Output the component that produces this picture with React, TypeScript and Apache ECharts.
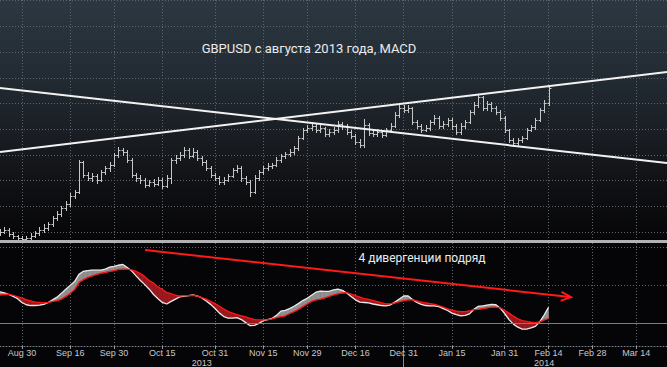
import React, { useEffect, useRef } from 'react';
import * as echarts from 'echarts';

// ---- data ----
const opens = [1.5585,1.5600,1.5616,1.5584,1.5569,1.5553,1.5546,1.5553,1.5569,1.5592,1.5616,1.5631,1.5662,1.5709,1.5740,1.5787,1.5818,1.5880,1.5911,1.6145,1.6043,1.6020,1.6036,1.6005,1.6067,1.6098,1.6121,1.6199,1.6238,1.6222,1.6160,1.6043,1.6020,1.6005,1.5966,1.5989,1.5973,1.6005,1.5958,1.6020,1.6160,1.6176,1.6199,1.6238,1.6191,1.6222,1.6176,1.6145,1.6098,1.6043,1.6020,1.5989,1.6005,1.6036,1.6082,1.6098,1.6020,1.5989,1.5911,1.6020,1.6067,1.6098,1.6113,1.6121,1.6160,1.6191,1.6207,1.6222,1.6254,1.6331,1.6394,1.6409,1.6425,1.6394,1.6409,1.6362,1.6378,1.6394,1.6440,1.6425,1.6378,1.6347,1.6300,1.6277,1.6432,1.6370,1.6362,1.6378,1.6355,1.6394,1.6425,1.6510,1.6565,1.6549,1.6565,1.6456,1.6425,1.6394,1.6409,1.6456,1.6487,1.6425,1.6440,1.6471,1.6425,1.6378,1.6425,1.6456,1.6534,1.6588,1.6650,1.6565,1.6596,1.6565,1.6534,1.6487,1.6394,1.6316,1.6292,1.6316,1.6331,1.6394,1.6417,1.6471,1.6549,1.6604];
const highs = [1.5625,1.5640,1.5628,1.5598,1.5580,1.5566,1.5570,1.5590,1.5610,1.5640,1.5660,1.5680,1.5725,1.5760,1.5800,1.5840,1.5900,1.5925,1.6160,1.6150,1.6065,1.6060,1.6050,1.6085,1.6115,1.6145,1.6215,1.6260,1.6255,1.6235,1.6175,1.6060,1.6045,1.6020,1.6005,1.6010,1.6025,1.6020,1.6040,1.6175,1.6200,1.6225,1.6260,1.6250,1.6250,1.6235,1.6190,1.6160,1.6110,1.6060,1.6035,1.6025,1.6055,1.6100,1.6120,1.6110,1.6035,1.6005,1.6040,1.6085,1.6115,1.6135,1.6140,1.6180,1.6210,1.6225,1.6245,1.6270,1.6350,1.6410,1.6430,1.6445,1.6440,1.6430,1.6420,1.6400,1.6420,1.6460,1.6455,1.6440,1.6390,1.6360,1.6320,1.6480,1.6445,1.6390,1.6400,1.6395,1.6410,1.6445,1.6530,1.6590,1.6585,1.6590,1.6575,1.6470,1.6440,1.6430,1.6470,1.6510,1.6500,1.6460,1.6490,1.6485,1.6440,1.6445,1.6475,1.6550,1.6610,1.6670,1.6660,1.6620,1.6615,1.6580,1.6550,1.6500,1.6405,1.6330,1.6335,1.6350,1.6410,1.6435,1.6490,1.6565,1.6625,1.6735];
const lows = [1.5575,1.5590,1.5570,1.5555,1.5540,1.5535,1.5538,1.5545,1.5560,1.5580,1.5600,1.5615,1.5650,1.5695,1.5725,1.5770,1.5805,1.5865,1.5900,1.6030,1.6005,1.6000,1.5985,1.5995,1.6050,1.6075,1.6110,1.6185,1.6200,1.6145,1.6030,1.6000,1.5985,1.5950,1.5955,1.5960,1.5965,1.5940,1.5950,1.5980,1.6140,1.6160,1.6185,1.6175,1.6180,1.6160,1.6125,1.6080,1.6025,1.6005,1.5970,1.5975,1.5995,1.6025,1.6065,1.6000,1.5970,1.5880,1.5900,1.6005,1.6050,1.6085,1.6095,1.6110,1.6145,1.6175,1.6190,1.6205,1.6240,1.6320,1.6375,1.6395,1.6380,1.6380,1.6345,1.6350,1.6365,1.6380,1.6405,1.6360,1.6330,1.6285,1.6260,1.6265,1.6355,1.6345,1.6350,1.6340,1.6345,1.6380,1.6415,1.6495,1.6530,1.6535,1.6440,1.6410,1.6380,1.6385,1.6395,1.6440,1.6410,1.6410,1.6425,1.6405,1.6360,1.6365,1.6410,1.6445,1.6520,1.6575,1.6550,1.6550,1.6545,1.6520,1.6470,1.6375,1.6300,1.6270,1.6275,1.6300,1.6320,1.6385,1.6405,1.6460,1.6535,1.6590];
const closes = [1.5600,1.5616,1.5584,1.5569,1.5553,1.5546,1.5553,1.5569,1.5592,1.5616,1.5631,1.5662,1.5709,1.5740,1.5787,1.5818,1.5880,1.5911,1.6145,1.6043,1.6020,1.6036,1.6005,1.6067,1.6098,1.6121,1.6199,1.6238,1.6222,1.6160,1.6043,1.6020,1.6005,1.5966,1.5989,1.5973,1.6005,1.5958,1.6020,1.6160,1.6176,1.6199,1.6238,1.6191,1.6222,1.6176,1.6145,1.6098,1.6043,1.6020,1.5989,1.6005,1.6036,1.6082,1.6098,1.6020,1.5989,1.5911,1.6020,1.6067,1.6098,1.6113,1.6121,1.6160,1.6191,1.6207,1.6222,1.6254,1.6331,1.6394,1.6409,1.6425,1.6394,1.6409,1.6362,1.6378,1.6394,1.6440,1.6425,1.6378,1.6347,1.6300,1.6277,1.6432,1.6370,1.6362,1.6378,1.6355,1.6394,1.6425,1.6510,1.6565,1.6549,1.6565,1.6456,1.6425,1.6394,1.6409,1.6456,1.6487,1.6425,1.6440,1.6471,1.6425,1.6378,1.6425,1.6456,1.6534,1.6588,1.6650,1.6565,1.6596,1.6565,1.6534,1.6487,1.6394,1.6316,1.6292,1.6316,1.6331,1.6394,1.6417,1.6471,1.6549,1.6604,1.6720];

const macdLine = [0.0082,0.0079,0.0075,0.0070,0.0064,0.0054,0.0048,0.0046,0.0046,0.0047,0.0049,0.0054,0.0061,0.0068,0.0078,0.0089,0.0099,0.0109,0.0128,0.0136,0.0138,0.0139,0.0139,0.0139,0.0142,0.0147,0.0149,0.0152,0.0154,0.0146,0.0137,0.0124,0.0112,0.0101,0.0089,0.0075,0.0064,0.0054,0.0050,0.0057,0.0063,0.0069,0.0071,0.0072,0.0074,0.0071,0.0066,0.0058,0.0049,0.0038,0.0026,0.0017,0.0013,0.0013,0.0014,0.0009,0.0001,-0.0007,-0.0006,-0.0001,0.0006,0.0009,0.0012,0.0020,0.0031,0.0033,0.0038,0.0044,0.0051,0.0059,0.0065,0.0073,0.0081,0.0084,0.0083,0.0083,0.0087,0.0089,0.0086,0.0079,0.0070,0.0061,0.0055,0.0054,0.0053,0.0050,0.0048,0.0046,0.0045,0.0048,0.0055,0.0063,0.0071,0.0071,0.0062,0.0054,0.0049,0.0046,0.0045,0.0045,0.0043,0.0038,0.0033,0.0026,0.0022,0.0019,0.0020,0.0024,0.0036,0.0044,0.0045,0.0047,0.0049,0.0048,0.0039,0.0025,0.0009,-0.0003,-0.0011,-0.0016,-0.0016,-0.0013,-0.0009,0.0003,0.0021,0.0041];
const signalLine = [0.0074,0.0075,0.0076,0.0073,0.0069,0.0066,0.0061,0.0058,0.0055,0.0054,0.0053,0.0054,0.0057,0.0059,0.0063,0.0070,0.0078,0.0088,0.0107,0.0114,0.0120,0.0124,0.0128,0.0131,0.0133,0.0136,0.0138,0.0141,0.0142,0.0142,0.0140,0.0136,0.0130,0.0122,0.0112,0.0105,0.0095,0.0088,0.0080,0.0077,0.0073,0.0071,0.0072,0.0072,0.0073,0.0071,0.0067,0.0063,0.0057,0.0051,0.0044,0.0037,0.0030,0.0026,0.0022,0.0019,0.0016,0.0012,0.0009,0.0008,0.0008,0.0009,0.0011,0.0014,0.0017,0.0019,0.0025,0.0030,0.0036,0.0043,0.0050,0.0057,0.0061,0.0063,0.0066,0.0070,0.0074,0.0077,0.0079,0.0080,0.0076,0.0072,0.0068,0.0064,0.0062,0.0059,0.0056,0.0053,0.0050,0.0051,0.0053,0.0056,0.0059,0.0061,0.0061,0.0058,0.0055,0.0053,0.0051,0.0049,0.0046,0.0042,0.0037,0.0034,0.0031,0.0030,0.0030,0.0032,0.0035,0.0036,0.0038,0.0040,0.0042,0.0042,0.0040,0.0033,0.0026,0.0018,0.0011,0.0006,0.0004,0.0002,0.0001,0.0003,0.0008,0.0012];

// trend lines: value at left edge, value at right edge of the plot
const risingTrend = [1.6222, 1.6845];
const fallingTrend = [1.6720, 1.6137];

const tickLabels = ['Aug 30','Sep 16','Sep 30','Oct 15','Oct 31','Nov 15','Nov 29','Dec 16','Dec 31','Jan 15','Jan 31','Feb 14','Feb 28','Mar 14'];
const yearLabels: Record<string, string> = { 'Oct 28': '2013', 'Feb 13': '2014' };
const yearBoundary = 'Dec 31';

const TITLE = 'GBPUSD с августа 2013 года, MACD';
const NOTE = '4 дивергенции подряд';

const MONTHS = ['Jan','Feb','Mar','Apr','May','Jun','Jul','Aug','Sep','Oct','Nov','Dec'];
function tradingDays(): string[] {
  const out: string[] = [];
  let t = Date.UTC(2013, 7, 23);
  const end = Date.UTC(2014, 2, 25);
  while (t <= end) {
    const d = new Date(t);
    const wd = d.getUTCDay();
    if (wd !== 0 && wd !== 6) out.push(MONTHS[d.getUTCMonth()] + ' ' + d.getUTCDate());
    t += 86400000;
  }
  return out;
}

export default function App() {
  const ref = useRef<HTMLDivElement>(null);
  useEffect(() => {
    if (!ref.current) return;
    const chart = echarts.init(ref.current, undefined, { renderer: 'svg' });
    const cats = tradingDays();
    const last = cats.length - 1;
    const tickSet = new Set(tickLabels);
    const isTick = (_i: number, v: string) => tickSet.has(v);
    const gridColor = '#5d646c';
    const GREY = '#909090';
    const RED = '#9a1a1f';

    const ohlc = closes.map((c, i) => [i, opens[i], highs[i], lows[i], c]);
    const fillData = macdLine.map((m, i) => [i, m, signalLine[i]]);

    const hiddenX = (gi: number) => ({
      type: 'category', data: cats, gridIndex: gi, boundaryGap: false, show: false,
    });

    chart.setOption({
      animation: false,
      backgroundColor: 'transparent',
      grid: [
        { left: 0, right: 0, top: 0, height: 346 },
        { left: 0, right: 0, top: 0.7, height: 231.3 },
        { left: 0, right: 0, top: 247, height: 76 },
      ],
      xAxis: [
        {
          type: 'category', data: cats, gridIndex: 0, boundaryGap: false,
          axisLine: { show: true, lineStyle: { color: '#7a7f85', type: [1, 2], width: 1 } },
          axisTick: { show: true, interval: isTick, length: 3, lineStyle: { color: '#9a9a9a' } },
          axisLabel: { interval: isTick, color: '#c8c8c8', fontSize: 9, fontFamily: 'Liberation Sans', margin: 2 },
          splitLine: { show: true, interval: isTick, lineStyle: { color: gridColor, type: [1, 2], width: 1 } },
        },
        {
          type: 'category', data: cats, gridIndex: 0, boundaryGap: false, position: 'bottom', offset: 0,
          axisLine: { show: false },
          axisTick: { show: true, interval: (_i: number, v: string) => v === yearBoundary, length: 21, inside: false, lineStyle: { color: '#8a8a8a' } },
          axisLabel: { interval: (_i: number, v: string) => !!yearLabels[v], formatter: (v: string) => yearLabels[v] || '', color: '#c8c8c8', fontSize: 9, fontFamily: 'Liberation Sans', margin: 12 },
          splitLine: { show: false },
        },
        hiddenX(1),
        hiddenX(2),
      ],
      yAxis: [
        { type: 'value', gridIndex: 0, show: false, min: 0, max: 1, splitLine: { show: false } },
        {
          type: 'value', gridIndex: 1, min: 1.56, max: 1.74, interval: 0.02,
          axisLine: { show: false }, axisTick: { show: false }, axisLabel: { show: false },
          splitLine: { show: true, lineStyle: { color: gridColor, type: [1, 2], width: 1 } },
        },
        {
          type: 'value', gridIndex: 2, min: 0, max: 0.02, interval: 0.01,
          axisLine: { show: false }, axisTick: { show: false }, axisLabel: { show: false },
          splitLine: { show: true, lineStyle: { color: gridColor, type: [1, 2], width: 1 } },
        },
      ],
      series: [
        {
          type: 'custom', xAxisIndex: 2, yAxisIndex: 1, data: ohlc, clip: false,
          encode: { x: 0, y: [1, 2, 3, 4] },
          renderItem: (_p: any, api: any) => {
            const i = api.value(0);
            const pO = api.coord([i, api.value(1)]);
            const pH = api.coord([i, api.value(2)]);
            const pL = api.coord([i, api.value(3)]);
            const pC = api.coord([i, api.value(4)]);
            const x = Math.round(pO[0]) + 0.5;
            const yo = Math.round(pO[1]) + 0.5;
            const yc = Math.round(pC[1]) + 0.5;
            const style = { stroke: '#c6c6c6', lineWidth: 1 };
            return {
              type: 'group',
              children: [
                { type: 'line', shape: { x1: x, y1: Math.round(pH[1]), x2: x, y2: Math.round(pL[1]) + 1 }, style },
                { type: 'line', shape: { x1: x - 2, y1: yo, x2: x, y2: yo }, style },
                { type: 'line', shape: { x1: x, y1: yc, x2: x + 2, y2: yc }, style },
              ],
            };
          },
        },
        {
          type: 'line', xAxisIndex: 2, yAxisIndex: 1, data: [[0, risingTrend[0]], [last, risingTrend[1]]],
          symbol: 'none', lineStyle: { color: '#f2f2f2', width: 2 }, clip: false, z: 5,
        },
        {
          type: 'line', xAxisIndex: 2, yAxisIndex: 1, data: [[0, fallingTrend[0]], [last, fallingTrend[1]]],
          symbol: 'none', lineStyle: { color: '#f2f2f2', width: 2 }, clip: false, z: 5,
        },
        {
          type: 'custom', xAxisIndex: 3, yAxisIndex: 2, data: fillData, clip: false,
          encode: { x: 0, y: [1, 2] },
          renderItem: (_p: any, api: any) => {
            const i = api.value(0);
            if (i >= macdLine.length - 1) return null;
            const m0 = api.coord([i, macdLine[i]]);
            const m1 = api.coord([i + 1, macdLine[i + 1]]);
            const s0 = api.coord([i, signalLine[i]]);
            const s1 = api.coord([i + 1, signalLine[i + 1]]);
            const d0 = macdLine[i] - signalLine[i];
            const d1 = macdLine[i + 1] - signalLine[i + 1];
            const poly = (pts: number[][], d: number) => {
              const c = d >= 0 ? GREY : RED;
              return { type: 'polygon', shape: { points: pts }, style: { fill: c, stroke: c, lineWidth: 0.6 } };
            };
            if (d0 * d1 >= 0) {
              return poly([m0, m1, s1, s0], d0 + d1);
            }
            const t = d0 / (d0 - d1);
            const px = m0[0] + t * (m1[0] - m0[0]);
            const py = m0[1] + t * (m1[1] - m0[1]);
            return {
              type: 'group',
              children: [poly([m0, [px, py], s0], d0), poly([[px, py], m1, s1], d1)],
            };
          },
        },
        {
          type: 'line', xAxisIndex: 3, yAxisIndex: 2, data: macdLine, symbol: 'none', clip: false,
          lineStyle: { color: '#e8e8e8', width: 1.3 }, z: 4,
          markLine: {
            silent: true, symbol: 'none', label: { show: false },
            lineStyle: { color: '#7c7c7c', type: 'solid', width: 1 },
            data: [{ yAxis: 0 }],
          },
        },
        {
          type: 'line', xAxisIndex: 3, yAxisIndex: 2, data: signalLine, symbol: 'none', clip: false,
          lineStyle: { color: '#ff1414', width: 1.3 }, z: 5,
        },
      ],
      graphic: [
        { type: 'rect', shape: { x: 0, y: 240, width: 667, height: 3 }, style: { fill: '#b2b2b2' }, z: 10 },
        {
          type: 'text', x: 309, y: 48,
          style: { text: TITLE, fill: '#ececec', fontSize: 13, fontFamily: 'Roboto', textAlign: 'center', textVerticalAlign: 'middle' },
          z: 10,
        },
        {
          type: 'text', x: 422, y: 258,
          style: { text: NOTE, fill: '#ececec', fontSize: 12, fontFamily: 'Roboto', textAlign: 'center', textVerticalAlign: 'middle' },
          z: 10,
        },
        { type: 'line', shape: { x1: 145, y1: 250, x2: 570, y2: 297 }, style: { stroke: '#ff1a1a', lineWidth: 2 }, z: 10 },
        { type: 'polyline', shape: { points: [[561.5, 291.9], [571, 297], [560.6, 300.9]] }, style: { stroke: '#ff1a1a', lineWidth: 2, fill: null }, z: 10 },
      ],
    });
    return () => chart.dispose();
  }, []);
  return (
    <div
      ref={ref}
      style={{
        position: 'absolute', left: 0, top: 0, width: 667, height: 367,
        background: 'linear-gradient(to bottom, #2c3741 0px, #232c34 70px, #1a1f25 130px, #111215 180px, #060608 238px, #050507 240px, #050507 367px)',
      }}
    />
  );
}
